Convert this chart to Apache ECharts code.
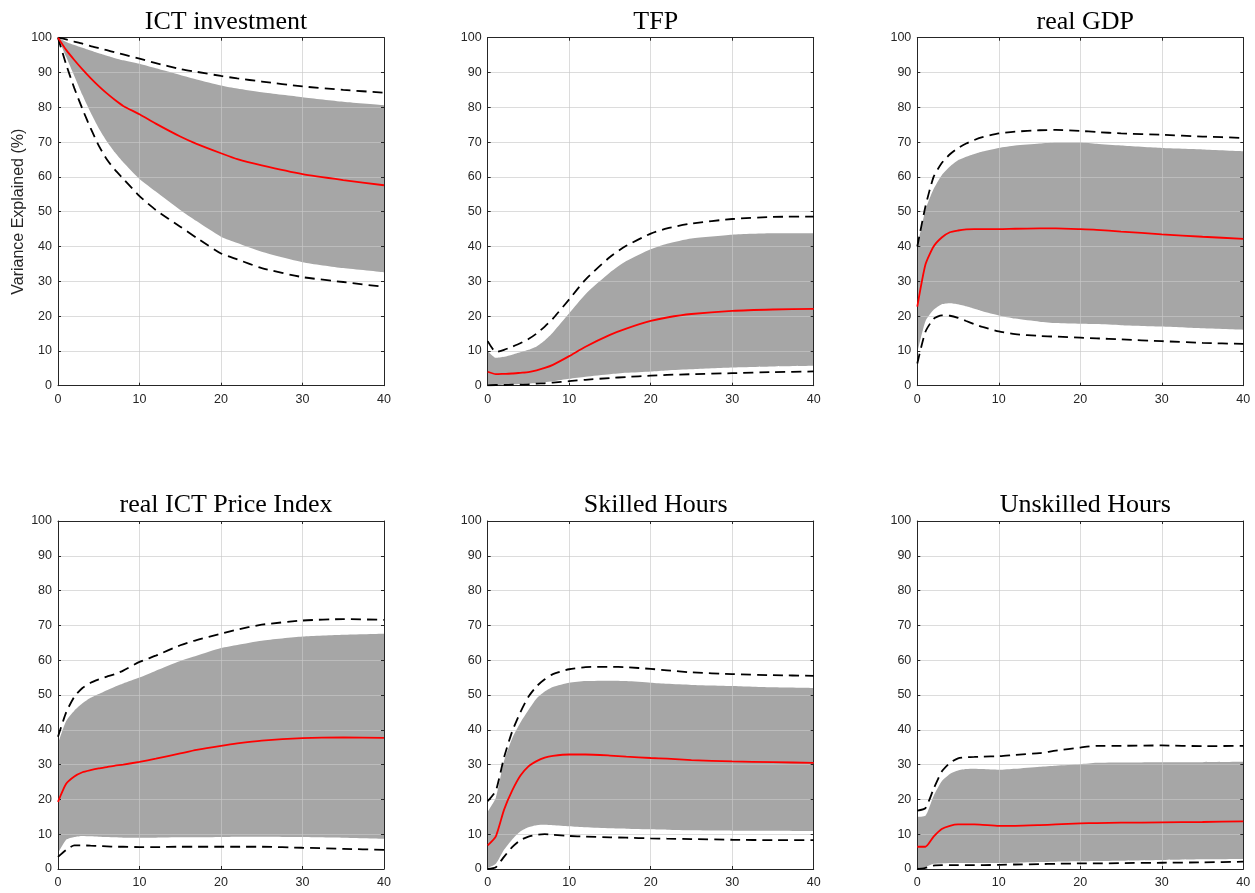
<!DOCTYPE html>
<html>
<head>
<meta charset="utf-8">
<script src="https://cdn.jsdelivr.net/npm/echarts@6/dist/echarts.min.js"></script>
<style>
html,body{margin:0;padding:0;background:#fff;}
#chart{width:1255px;height:893px;}
</style>
</head>
<body>
<div id="chart"></div>
<script>
// ---- data (horizon in quarters) ----
const X = [0,1,2,3,4,5,6,7,8,10,12,15,17,20,22,25,30,35,40];
const titles = ['ICT investment','TFP','real GDP','real ICT Price Index','Skilled Hours','Unskilled Hours'];
const yAxisName = 'Variance Explained (%)';

// ICT investment
const ictInv_dashHi = [100,99.5,98.9,98.3,97.6,97,96.4,95.8,95.2,94,92.7,91,90.2,89,88.3,87.4,86,85,84.2];
const ictInv_bandHi = [100,98.8,97.9,97.1,96.3,95.5,94.8,94.1,93.5,92.5,91.2,89.3,88,86.3,85.4,84.3,82.9,81.6,80.6];
const ictInv_median = [100,96.5,93.6,90.9,88.4,86.1,84,82.1,80.4,78,75.3,71.6,69.5,66.8,65.1,63.3,60.8,59.1,57.6];
const ictInv_bandLo = [100,94.5,89,83.5,78.5,74,70.2,67,64.2,59.4,55.8,50.5,47.3,42.8,41,38.5,35.5,33.8,32.6];
const ictInv_dashLo = [100,92.3,85.5,79.5,74,69,65,62,59.5,54.5,50.5,45.7,42.5,38,36.3,33.8,31.2,29.8,28.4];

// TFP
const tfp_dashHi = [12.8,9.7,10.3,11.2,12.2,13.4,15,17,19.3,24.8,30.5,37,40.2,43.7,45.2,46.6,47.9,48.5,48.6];
const tfp_bandHi = [10,8,8.3,8.9,9.6,10.3,11.3,13,15.3,20.8,26.3,32.5,35.8,39.2,40.8,42.3,43.4,43.8,43.8];
const tfp_median = [4,3.3,3.4,3.5,3.7,3.9,4.4,5.1,6,8.5,11.2,14.6,16.4,18.6,19.6,20.6,21.5,21.9,22.1];
const tfp_bandLo = [0.2,0.2,0.3,0.4,0.5,0.6,0.8,1,1.3,2,2.6,3.3,3.7,4.1,4.4,4.7,5.2,5.5,5.7];
const tfp_dashLo = [0.1,0.2,0.2,0.3,0.3,0.4,0.6,0.7,0.9,1.3,1.7,2.2,2.5,2.9,3.1,3.3,3.6,3.9,4.1];

// real GDP
const gdp_dashHi = [40,51.5,60,64,66.5,68.3,69.6,70.6,71.4,72.5,73,73.4,73.5,73.2,72.9,72.5,72.1,71.6,71.2];
const gdp_bandHi = [40,50.5,56.5,60.5,63,64.8,65.8,66.6,67.3,68.3,69,69.6,69.9,69.9,69.5,69,68.3,67.9,67.4];
const gdp_median = [22.7,34.8,40,42.6,44.1,44.6,44.9,45,45,45,45.1,45.2,45.2,45,44.8,44.3,43.5,42.8,42.2];
const gdp_bandLo = [9.5,18.5,21.8,23.4,23.7,23.4,22.8,22.1,21.4,20.2,19.3,18.4,18,17.8,17.7,17.4,17,16.5,16.1];
const gdp_dashLo = [6.4,15.5,19.2,20.2,20.1,19.5,18.6,17.7,16.9,15.6,14.8,14.3,14.1,13.8,13.6,13.3,12.8,12.3,12];

// real ICT Price Index
const price_dashHi = [38,45,49.5,52,53.5,54.5,55.3,56,57,59.5,61.3,64.3,65.8,67.6,68.8,70.2,71.4,71.8,71.6];
const price_bandHi = [36,42.5,45.5,47.6,49.2,50.3,51.4,52.4,53.3,55,57,59.8,61.3,63.5,64.4,65.6,66.8,67.3,67.6];
const price_median = [19.3,24.5,26.6,27.8,28.4,28.9,29.3,29.7,30,30.8,31.7,33.2,34.2,35.4,36.1,36.9,37.6,37.8,37.7];
const price_bandLo = [4.5,8.4,9.2,9.5,9.4,9.3,9.2,9.1,9,9,9,9.1,9.1,9.2,9.3,9.3,9.2,9,8.7];
const price_dashLo = [3.5,5.5,6.8,6.8,6.7,6.6,6.5,6.4,6.4,6.3,6.3,6.4,6.4,6.4,6.4,6.4,6.1,5.8,5.5];

// Skilled Hours
const skill_dashHi = [19.5,22.5,32,39.5,45,49.5,52.5,54.5,56,57.4,58,58.1,58,57.5,57.1,56.5,56,55.7,55.5];
const skill_bandHi = [16.5,20.5,31,37.5,42,45.7,49,51,52.3,53.5,54,54.1,54,53.5,53.2,52.9,52.6,52.2,52];
const skill_median = [6.8,9.4,17,22.5,26.8,29.5,31,32,32.5,32.9,32.9,32.6,32.3,31.9,31.7,31.3,30.9,30.7,30.5];
const skill_bandLo = [0.3,1.5,5.5,8.5,10.8,12,12.6,12.7,12.6,12.3,12,11.7,11.6,11.4,11.3,11.1,11,11,10.9];
const skill_dashLo = [0,0.5,3.5,6.3,8.3,9.3,9.8,10,9.8,9.5,9.3,9.1,9,8.8,8.7,8.6,8.4,8.3,8.3];

// Unskilled Hours
const unsk_dashHi = [16.8,17.5,23,28,30.5,31.8,32.1,32.2,32.3,32.4,32.8,33.3,34,34.9,35.4,35.4,35.5,35.3,35.4];
const unsk_bandHi = [15,15.3,21,25.2,27.3,28.3,28.7,28.8,28.7,28.5,28.8,29.4,29.7,30.1,30.5,30.6,30.7,30.7,30.8];
const unsk_median = [6.4,6.4,9.3,11.5,12.4,12.8,12.8,12.8,12.7,12.4,12.4,12.6,12.8,13.1,13.2,13.3,13.4,13.5,13.7];
const unsk_bandLo = [0.3,0.6,1.5,1.6,1.7,1.7,1.7,1.7,1.7,1.7,1.8,2,2.1,2.2,2.3,2.4,2.6,2.8,2.9];
const unsk_dashLo = [0,0.3,1,1.1,1.1,1.1,1.1,1.1,1.1,1.2,1.3,1.4,1.5,1.6,1.6,1.7,1.8,1.9,2.1];

const panels = [
  [ictInv_dashHi, ictInv_bandHi, ictInv_median, ictInv_bandLo, ictInv_dashLo],
  [tfp_dashHi, tfp_bandHi, tfp_median, tfp_bandLo, tfp_dashLo],
  [gdp_dashHi, gdp_bandHi, gdp_median, gdp_bandLo, gdp_dashLo],
  [price_dashHi, price_bandHi, price_median, price_bandLo, price_dashLo],
  [skill_dashHi, skill_bandHi, skill_median, skill_bandLo, skill_dashLo],
  [unsk_dashHi, unsk_bandHi, unsk_median, unsk_bandLo, unsk_dashLo]
];

// ---- layout ----
const colLeft = [58, 487.7, 917.3];
const rowTop = [37.7, 521];
const plotW = 326, plotH = 348;
const axisColor = '#262626';
const gridLineColor = 'rgba(200,200,200,0.64)';
const labelFont = {fontFamily: 'Liberation Sans, Arial, sans-serif', fontSize: 12.5, color: axisColor};
const SMOOTH = 0.2;

const pts = arr => X.map((x, i) => [x, arr[i]]);

const grid = [], xAxis = [], yAxis = [], series = [], title = [];
panels.forEach((p, i) => {
  const r = Math.floor(i / 3), c = i % 3;
  grid.push({left: colLeft[c], top: rowTop[r], width: plotW, height: plotH, containLabel: false});
  title.push({
    text: titles[i], left: colLeft[c] + plotW / 2, top: rowTop[r] - 33.5, textAlign: 'center',
    textStyle: {fontFamily: 'Liberation Serif, serif', fontSize: 26, fontWeight: 'normal', color: '#000'}
  });
  xAxis.push({
    type: 'value', gridIndex: i, min: 0, max: 40, interval: 10, position: 'bottom', z: 2,
    axisLine: {show: true, onZero: false, lineStyle: {color: axisColor, width: 1}},
    axisTick: {show: true, inside: true, length: 3, lineStyle: {color: axisColor}},
    axisLabel: Object.assign({margin: 7}, labelFont),
    splitLine: {show: true, lineStyle: {color: gridLineColor, width: 1}}
  });
  xAxis.push({
    type: 'value', gridIndex: i, min: 0, max: 40, interval: 10, position: 'top', z: 2,
    axisLine: {show: true, onZero: false, lineStyle: {color: axisColor, width: 1}},
    axisTick: {show: true, inside: true, length: 3, lineStyle: {color: axisColor}},
    axisLabel: {show: false}, splitLine: {show: false}
  });
  const ya = {
    type: 'value', gridIndex: i, min: 0, max: 100, interval: 10, position: 'left', z: 2,
    axisLine: {show: true, onZero: false, lineStyle: {color: axisColor, width: 1}},
    axisTick: {show: true, inside: true, length: 3, lineStyle: {color: axisColor}},
    axisLabel: Object.assign({margin: 6}, labelFont),
    splitLine: {show: true, lineStyle: {color: gridLineColor, width: 1}}
  };
  if (i === 0) {
    ya.name = yAxisName;
    ya.nameLocation = 'middle';
    ya.nameGap = 31;
    ya.nameTextStyle = {fontFamily: 'Liberation Sans, Arial, sans-serif', fontSize: 16, color: axisColor};
  }
  yAxis.push(ya);
  yAxis.push({
    type: 'value', gridIndex: i, min: 0, max: 100, interval: 10, position: 'right', z: 2,
    axisLine: {show: true, onZero: false, lineStyle: {color: axisColor, width: 1}},
    axisTick: {show: true, inside: true, length: 3, lineStyle: {color: axisColor}},
    axisLabel: {show: false}, splitLine: {show: false}
  });
  const xi = 2 * i, yi = 2 * i;
  const [dHi, bHi, med, bLo, dLo] = p;
  const common = {type: 'line', xAxisIndex: xi, yAxisIndex: yi, showSymbol: false, symbol: 'none', silent: true, animation: false, smooth: SMOOTH};
  // band: grey area from the upper edge down to the axis, then white area from the lower edge down to the axis
  series.push(Object.assign({}, common, {
    name: 'bandHi' + i, data: pts(bHi), z: 1,
    lineStyle: {opacity: 0, width: 0}, areaStyle: {color: '#a6a6a6', opacity: 1, origin: 'start'}
  }));
  series.push(Object.assign({}, common, {
    name: 'bandLo' + i, data: pts(bLo), z: 1,
    lineStyle: {opacity: 0, width: 0}, areaStyle: {color: '#ffffff', opacity: 1, origin: 'start'}
  }));
  series.push(Object.assign({}, common, {
    name: 'dashHi' + i, data: pts(dHi), z: 3,
    lineStyle: {color: '#000', width: 1.8, type: [10, 6]}
  }));
  series.push(Object.assign({}, common, {
    name: 'dashLo' + i, data: pts(dLo), z: 3,
    lineStyle: {color: '#000', width: 1.8, type: [10, 6]}
  }));
  series.push(Object.assign({}, common, {
    name: 'median' + i, data: pts(med), z: 4,
    lineStyle: {color: '#ff0000', width: 1.8}
  }));
});

const chart = echarts.init(document.getElementById('chart'), null, {renderer: 'canvas'});
chart.setOption({
  backgroundColor: '#ffffff',
  animation: false,
  title, grid, xAxis, yAxis, series
});
</script>
</body>
</html>
